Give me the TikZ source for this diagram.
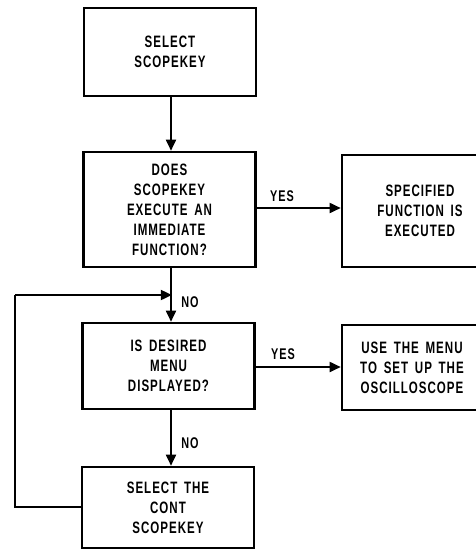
\documentclass[tikz,border=0pt]{standalone}
\usepackage{fontspec}
\setmainfont{Liberation Sans}[FakeStretch=0.7,LetterSpace=6,WordSpace=1.6]
\usetikzlibrary{arrows.meta}
\begin{document}
\begin{tikzpicture}[x=1pt,y=-1pt,
  box/.style={draw,line width=2.6pt,align=center,inner sep=0pt,
    font=\fontsize{16.5}{20}\selectfont\bfseries,minimum width=172pt},
  conn/.style={line width=1.8pt,-{Triangle[length=11pt,width=10pt]}},
  lbl/.style={font=\fontsize{15.5}{16}\selectfont\bfseries,inner sep=0pt}]
\useasboundingbox (0,0) rectangle (476,550);
\node[box,minimum height=88pt] (sel) at (170,52) {SELECT\\SCOPEKEY};
\node[box,minimum height=115pt] (does) at (169.5,209.5) {DOES\\SCOPEKEY\\EXECUTE AN\\IMMEDIATE\\FUNCTION?};
\node[box,minimum width=156pt,minimum height=112pt] (spec) at (420,211) {SPECIFIED\\FUNCTION IS\\EXECUTED};
\node[box,minimum height=86pt] (menu) at (168.5,366) {IS DESIRED\\MENU\\DISPLAYED?};
\node[box,minimum width=140pt,minimum height=85pt] (use) at (412,367.5) {USE THE MENU\\TO SET UP THE\\OSCILLOSCOPE};
\node[box,minimum height=81pt] (cont) at (168,507.5) {SELECT THE\\CONT\\SCOPEKEY};
\coordinate (j) at (171,295);
\coordinate (lt) at (15,295);
\coordinate (lb) at (15,507);
\draw[conn] (sel.south -| 171,0) -- (does.north -| 171,0);
\draw[conn] (does.east |- 0,208) -- (spec.west |- 0,208);
\draw[conn] (menu.east |- 0,367) -- (use.west |- 0,367);
\draw[line width=1.8pt] (does.south -| 171,0) -- (j);
\draw[conn] (j) -- (menu.north -| 171,0);
\draw[conn] (menu.south -| 171,0) -- (cont.north -| 171,0);
\draw[line width=1.8pt] (cont.west |- lb) -- (lb) -- (lt);
\draw[conn,shorten >=-0.9pt] (lt) -- (j);
\node[lbl] (yes1) at (282,196) {YES};
\node[lbl] (yes2) at (283,354) {YES};
\node[lbl] (no1) at (190,302) {NO};
\node[lbl] (no2) at (190,443) {NO};
\end{tikzpicture}
\end{document}
